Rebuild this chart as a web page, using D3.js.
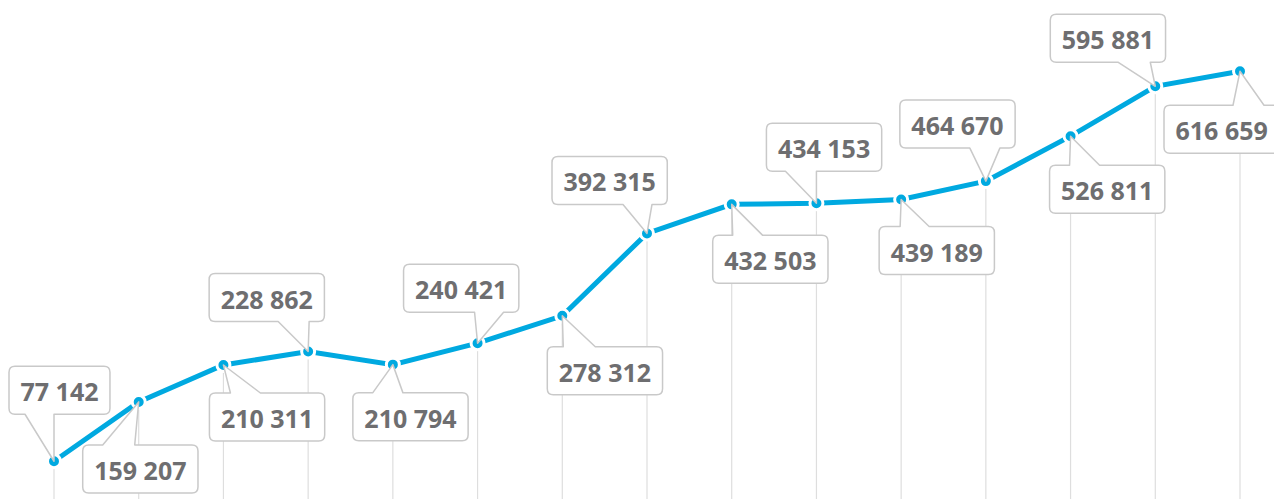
<!DOCTYPE html>
<html>
<head>
<meta charset="utf-8">
<script src="https://cdnjs.cloudflare.com/ajax/libs/d3/7.8.5/d3.min.js"></script>
<style>
  html, body { margin: 0; padding: 0; background: #fff; overflow: hidden; }
  svg { display: block; }
</style>
</head>
<body>
<svg></svg>
<script>
// chart values
var periods = ["1","2","3","4","5","6","7","8","9","10","11","12","13","14","15"];
var values = [77142, 159207, 210311, 228862, 210794, 240421, 278312, 392315,
              432503, 434153, 439189, 464670, 526811, 595881, 616659];

// where each callout sits relative to its point (layout only)
// side: label above ("top") or below ("bottom") the point
// dx: box left edge minus point x, gap: distance from point to the box edge
// t0,t1: where the pointer meets the box, relative to point x
var calloutSide = ["top","bottom","bottom","top","bottom","top","bottom","top",
                   "bottom","top","bottom","top","bottom","top","bottom"];
var calloutDx = [-45,-56,-14,-99,-40,-74,-15,-95,-19,-50,-22,-86,-21,-105,-76];
var calloutGap = [47,43,28,30,28,31,31,29,31,32,27,33,29,24,34];
var calloutT0 = [-29,-36,7,-30,-20,-3,1,-24,1,-31,-1,-16,-1,-37,-7];
var calloutT1 = [0,-4,37,1,10,26,33,5,31,0,28,14,29,-5,24];

var fmt = function(v)
{
    return d3.format(",")(v).replace(/,/g, " ");
}

var initGraph = function()
{
    var screen = {width:1274, height:499}

    var svg = d3.select("svg")
        .attr("width", screen.width)
        .attr("height", screen.height)

    var xScale = d3.scalePoint()
        .domain(periods)
        .range([54, 1240])

    var yScale = d3.scaleLinear()
        .domain([0, 700000])
        .range([517, 11])

    var data = values.map(function(v, i)
    {
        return {period:periods[i], value:v, i:i,
                x:xScale(periods[i]), y:yScale(v)};
    });

    // vertical drop lines
    svg.append("g")
        .selectAll("line")
        .data(data)
        .enter()
        .append("line")
        .attr("x1", function(d){ return d.x; })
        .attr("x2", function(d){ return d.x; })
        .attr("y1", function(d){ return d.y; })
        .attr("y2", screen.height + 5)
        .attr("stroke", "#dedede")
        .attr("stroke-width", 1.2)

    var line = d3.line()
        .x(function(d){ return d.x; })
        .y(function(d){ return d.y; })

    svg.append("path")
        .datum(data)
        .attr("d", line)
        .attr("fill", "none")
        .attr("stroke", "#00a9e0")
        .attr("stroke-width", 5)

    svg.append("g")
        .selectAll("circle")
        .data(data)
        .enter()
        .append("circle")
        .attr("cx", function(d){ return d.x; })
        .attr("cy", function(d){ return d.y; })
        .attr("r", 6.5)
        .attr("fill", "#00a9e0")
        .attr("stroke", "#fff")
        .attr("stroke-width", 3)

    // callouts
    var labels = svg.append("g")
        .selectAll("g")
        .data(data)
        .enter()
        .append("g")

    var boxH = 48, pad = 11.5, r = 6;

    labels.each(function(d)
    {
        var g = d3.select(this);
        var path = g.append("path");
        var text = g.append("text")
            .text(fmt(d.value))
            .attr("font-family", "'Open Sans', 'DejaVu Sans', sans-serif")
            .attr("font-weight", 700)
            .attr("font-size", 25)
            .attr("fill", "#6e6e70")
            .attr("text-anchor", "middle")
            .attr("dominant-baseline", "central")

        var w = text.node().getComputedTextLength() + 2 * pad;
        var x0 = d.x + calloutDx[d.i], x1 = x0 + w;
        var y0, y1;
        if (calloutSide[d.i] == "top")
        {
            y1 = d.y - calloutGap[d.i];
            y0 = y1 - boxH;
        }
        else
        {
            y0 = d.y + calloutGap[d.i];
            y1 = y0 + boxH;
        }
        var ta = d.x + calloutT0[d.i], tb = d.x + calloutT1[d.i];

        var p = d3.path();
        p.moveTo(x0 + r, y0);
        if (calloutSide[d.i] == "bottom")
        {
            p.lineTo(ta, y0);
            p.lineTo(d.x, d.y);
            p.lineTo(tb, y0);
        }
        p.lineTo(x1 - r, y0);
        p.quadraticCurveTo(x1, y0, x1, y0 + r);
        p.lineTo(x1, y1 - r);
        p.quadraticCurveTo(x1, y1, x1 - r, y1);
        if (calloutSide[d.i] == "top")
        {
            p.lineTo(tb, y1);
            p.lineTo(d.x, d.y);
            p.lineTo(ta, y1);
        }
        p.lineTo(x0 + r, y1);
        p.quadraticCurveTo(x0, y1, x0, y1 - r);
        p.lineTo(x0, y0 + r);
        p.quadraticCurveTo(x0, y0, x0 + r, y0);
        p.closePath();

        path.attr("d", p.toString())
            .attr("fill", "#fff")
            .attr("stroke", "#c9c9c9")
            .attr("stroke-width", 1.5)
            .attr("stroke-linejoin", "round")

        text.attr("x", (x0 + x1) / 2)
            .attr("y", (y0 + y1) / 2 + 1)
    });
}

initGraph();
</script>
</body>
</html>
